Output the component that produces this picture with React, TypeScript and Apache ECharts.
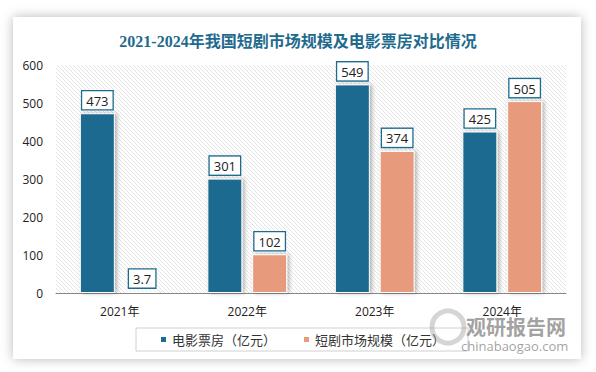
import React, { useEffect, useRef } from "react";
import * as echarts from "echarts";

const categories = ["2021年", "2022年", "2023年", "2024年"];
const boxOffice = [473, 301, 549, 425];
const shortDrama = [3.7, 102, 374, 505];
const seriesNames = ["电影票房（亿元）", "短剧市场规模（亿元）"];
const titleText = "2021-2024年我国短剧市场规模及电影票房对比情况";

const BLUE = "#1D6B8F";
const ORANGE = "#E79B7B";

const hatchSvg =
  "data:image/svg+xml;utf8," +
  encodeURIComponent(
    '<svg xmlns="http://www.w3.org/2000/svg" width="4" height="4"><rect width="4" height="4" fill="#ffffff"/><path d="M-1,-1 L5,5 M-1,3 L1,5 M3,-1 L5,1" stroke="#e2e2e2" stroke-width="0.9"/></svg>'
  );

export default function App() {
  const ref = useRef<HTMLDivElement>(null);
  useEffect(() => {
    document.body.style.margin = "0";
    const chart = echarts.init(ref.current!, null, { renderer: "svg" });
    const labelStyle = {
      show: true,
      position: "top",
      distance: 4,
      backgroundColor: "#fff",
      borderColor: BLUE,
      borderWidth: 1.3,
      padding: [3, 4, 2, 4],
      color: "#222",
      fontSize: 13,
      fontFamily: "Open Sans",
    };
    chart.setOption({
      animation: false,
      backgroundColor: "#fff",
      graphic: [
        {
          type: "rect",
          z: -10,
          silent: true,
          shape: { x: 13, y: 17, width: 568, height: 342 },
          style: {
            fill: "#fff",
            shadowBlur: 12,
            shadowColor: "rgba(0,0,0,0.28)",
          },
        },
        {
          type: "circle",
          z: 100,
          shape: { cx: 448, cy: 327, r: 16 },
          style: { fill: "none", stroke: "rgba(150,150,150,0.4)", lineWidth: 5 },
        },
        {
          type: "text",
          z: 100,
          x: 466,
          y: 316,
          style: {
            text: "观研报告网",
            fontSize: 20,
            fontWeight: "bold",
            fill: "rgba(120,120,120,0.7)",
            fontFamily: "Noto Sans CJK SC",
          },
        },
        {
          type: "text",
          z: 100,
          x: 461,
          y: 339,
          style: {
            text: "chinabaogao.com",
            fontSize: 13,
            fill: "rgba(120,120,120,0.7)",
            fontFamily: "Open Sans",
          },
        },
      ],
      title: {
        text: titleText,
        left: "center",
        top: 28,
        textStyle: {
          fontSize: 16,
          fontWeight: "bold",
          color: "#1F6B8E",
          fontFamily: "Liberation Serif, Noto Sans CJK SC",
        },
      },
      legend: {
        left: 136,
        top: 328,
        padding: [5, 23],
        itemGap: 26,
        itemWidth: 7,
        itemHeight: 7,
        icon: "rect",
        borderColor: "#d0d0d0",
        borderWidth: 1,
        textStyle: { fontSize: 13, color: "#333", fontFamily: "Noto Sans CJK SC" },
        data: seriesNames,
      },
      grid: {
        left: 56,
        right: 30,
        top: 65,
        bottom: 79,
        show: true,
        borderWidth: 0,
        backgroundColor: { image: hatchSvg, repeat: "repeat" },
      },
      xAxis: {
        type: "category",
        data: categories,
        axisLine: { lineStyle: { color: "#888", width: 1 } },
        axisTick: { show: false },
        axisLabel: { color: "#222", fontSize: 12, margin: 12, fontFamily: "Open Sans, Noto Sans CJK SC" },
      },
      yAxis: {
        type: "value",
        min: 0,
        max: 600,
        interval: 100,
        axisLine: { show: false },
        axisTick: { show: false },
        splitLine: { show: false },
        axisLabel: { color: "#222", fontSize: 12, margin: 13, fontFamily: "Open Sans" },
      },
      series: [
        {
          name: seriesNames[0],
          type: "bar",
          data: boxOffice,
          barWidth: 35,
          barGap: "28%",
          itemStyle: {
            color: BLUE,
            borderColor: "#fff",
            borderWidth: 1,
            shadowBlur: 4,
            shadowOffsetX: 2,
            shadowColor: "rgba(0,0,0,0.3)",
          },
          label: labelStyle,
        },
        {
          name: seriesNames[1],
          type: "bar",
          data: shortDrama,
          barWidth: 35,
          itemStyle: {
            color: ORANGE,
            borderColor: "#fff",
            borderWidth: 1,
            shadowBlur: 4,
            shadowOffsetX: 2,
            shadowColor: "rgba(0,0,0,0.3)",
          },
          label: labelStyle,
        },
      ],
    });
    return () => chart.dispose();
  }, []);
  return <div ref={ref} style={{ width: 596, height: 372 }} />;
}
